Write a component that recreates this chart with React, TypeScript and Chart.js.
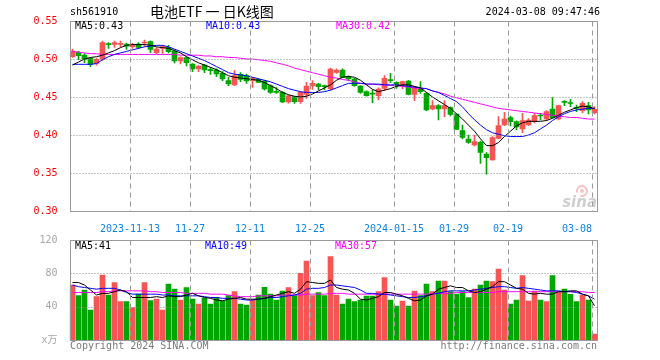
import React, { useEffect, useRef } from 'react';
import { Chart, registerables } from 'chart.js';

Chart.register(...registerables);

// ---------- data ----------
const DATES = [
  '2023-10-30','2023-10-31','2023-11-01','2023-11-02','2023-11-03','2023-11-06','2023-11-07','2023-11-08','2023-11-09','2023-11-10',
  '2023-11-13','2023-11-14','2023-11-15','2023-11-16','2023-11-17','2023-11-20','2023-11-21','2023-11-22','2023-11-23','2023-11-24',
  '2023-11-27','2023-11-28','2023-11-29','2023-11-30','2023-12-01','2023-12-04','2023-12-05','2023-12-06','2023-12-07','2023-12-08',
  '2023-12-11','2023-12-12','2023-12-13','2023-12-14','2023-12-15','2023-12-18','2023-12-19','2023-12-20','2023-12-21','2023-12-22',
  '2023-12-25','2023-12-26','2023-12-27','2023-12-28','2023-12-29','2024-01-02','2024-01-03','2024-01-04','2024-01-05','2024-01-08',
  '2024-01-09','2024-01-10','2024-01-11','2024-01-12','2024-01-15','2024-01-16','2024-01-17','2024-01-18','2024-01-19','2024-01-22',
  '2024-01-23','2024-01-24','2024-01-25','2024-01-26','2024-01-29','2024-01-30','2024-01-31','2024-02-01','2024-02-02','2024-02-05',
  '2024-02-06','2024-02-07','2024-02-08','2024-02-19','2024-02-20','2024-02-21','2024-02-22','2024-02-23','2024-02-26','2024-02-27',
  '2024-02-28','2024-02-29','2024-03-01','2024-03-04','2024-03-05','2024-03-06','2024-03-07','2024-03-08',
];

const TICK_INDEX = [10, 20, 30, 40, 54, 64, 73, 87];
const TICK_TEXT = ['2023-11-13', '11-27', '12-11', '12-25', '2024-01-15', '01-29', '02-19', '03-08'];

const OPEN = [
  0.5031,0.5088,0.5053,0.5009,0.4943,0.4996,0.5197,0.5193,0.5193,0.5197,
  0.5162,0.5197,0.5210,0.5228,0.5083,0.5140,0.5153,0.5105,0.4974,0.5018,
  0.4934,0.4868,0.4921,0.4851,0.4855,0.4811,0.4715,0.4658,0.4798,0.4781,
  0.4715,0.4732,0.4710,0.4650,0.4565,0.4561,0.4434,0.4504,0.4439,0.4535,
  0.4645,0.4671,0.4638,0.4610,0.4825,0.4855,0.4768,0.4737,0.4645,0.4570,
  0.4540,0.4518,0.4614,0.4719,0.4693,0.4658,0.4711,0.4535,0.4601,0.4548,
  0.4342,0.4386,0.4342,0.4360,0.4276,0.4057,0.3947,0.3869,0.3904,0.3750,
  0.3671,0.3956,0.4132,0.4228,0.4175,0.4079,0.4132,0.4175,0.4254,0.4210,
  0.4342,0.4210,0.4432,0.4417,0.4353,0.4320,0.4386,0.4294,
];
const HIGH = [
  0.5132,0.5100,0.5070,0.5020,0.5010,0.5237,0.5215,0.5237,0.5237,0.5210,
  0.5206,0.5215,0.5250,0.5240,0.5150,0.5175,0.5180,0.5120,0.5030,0.5030,
  0.4940,0.4915,0.4930,0.4886,0.4870,0.4833,0.4759,0.4846,0.4820,0.4800,
  0.4760,0.4740,0.4720,0.4660,0.4623,0.4570,0.4525,0.4510,0.4570,0.4693,
  0.4715,0.4680,0.4658,0.4880,0.4870,0.4870,0.4780,0.4745,0.4650,0.4580,
  0.4592,0.4620,0.4781,0.4812,0.4700,0.4710,0.4720,0.4640,0.4702,0.4560,
  0.4452,0.4400,0.4452,0.4370,0.4280,0.4132,0.4000,0.4000,0.3920,0.3770,
  0.3980,0.4241,0.4298,0.4250,0.4185,0.4285,0.4215,0.4285,0.4285,0.4320,
  0.4491,0.4395,0.4452,0.4470,0.4395,0.4439,0.4430,0.4373,
];
const LOW = [
  0.5020,0.4990,0.4952,0.4900,0.4920,0.4980,0.5140,0.5154,0.5160,0.5127,
  0.5140,0.5140,0.5170,0.5083,0.5070,0.5075,0.5080,0.4950,0.4934,0.4908,
  0.4833,0.4833,0.4820,0.4798,0.4768,0.4715,0.4650,0.4650,0.4702,0.4680,
  0.4627,0.4690,0.4590,0.4548,0.4548,0.4425,0.4420,0.4417,0.4417,0.4482,
  0.4601,0.4592,0.4592,0.4590,0.4810,0.4750,0.4715,0.4640,0.4548,0.4510,
  0.4426,0.4461,0.4584,0.4689,0.4614,0.4605,0.4526,0.4452,0.4548,0.4320,
  0.4329,0.4197,0.4241,0.4250,0.4070,0.3947,0.3890,0.3855,0.3627,0.3483,
  0.3670,0.3947,0.4123,0.4118,0.4070,0.4031,0.4123,0.4160,0.4197,0.4190,
  0.4220,0.4197,0.4386,0.4373,0.4307,0.4294,0.4276,0.4276,
];
const CLOSE = [
  0.5105,0.5044,0.4996,0.4930,0.4996,0.5215,0.5190,0.5215,0.5201,0.5170,
  0.5184,0.5153,0.5215,0.5127,0.5132,0.5162,0.5096,0.4974,0.5018,0.4952,
  0.4868,0.4908,0.4855,0.4847,0.4803,0.4737,0.4671,0.4781,0.4732,0.4711,
  0.4746,0.4693,0.4605,0.4561,0.4561,0.4434,0.4517,0.4439,0.4561,0.4645,
  0.4680,0.4636,0.4636,0.4866,0.4855,0.4759,0.4737,0.4650,0.4561,0.4518,
  0.4538,0.4605,0.4746,0.4715,0.4645,0.4702,0.4535,0.4623,0.4570,0.4329,
  0.4386,0.4342,0.4386,0.4272,0.4075,0.3969,0.3904,0.3912,0.3772,0.3702,
  0.3965,0.4123,0.4211,0.4175,0.4105,0.4190,0.4197,0.4254,0.4250,0.4307,
  0.4228,0.4386,0.4430,0.4415,0.4351,0.4417,0.4329,0.4338,
];

const MA5 = [
  0.492,0.496,0.500,0.502,0.503,0.505,0.508,0.511,0.515,0.518,
  0.519,0.519,0.519,0.518,0.516,0.515,0.514,0.511,0.508,0.503,
  0.499,0.495,0.492,0.489,0.486,0.482,0.478,0.476,0.475,0.474,
  0.473,0.472,0.469,0.465,0.461,0.456,0.453,0.451,0.450,0.451,
  0.454,0.458,0.462,0.466,0.472,0.476,0.477,0.476,0.472,0.466,
  0.460,0.457,0.459,0.461,0.464,0.466,0.466,0.464,0.462,0.456,
  0.450,0.445,0.440,0.435,0.428,0.421,0.413,0.405,0.395,0.386,
  0.386,0.390,0.398,0.405,0.412,0.416,0.418,0.418,0.418,0.419,
  0.422,0.426,0.430,0.433,0.436,0.438,0.437,0.435,
];
const MA10 = [
  0.493,0.493,0.493,0.493,0.494,0.499,0.503,0.506,0.508,0.510,
  0.512,0.514,0.516,0.517,0.518,0.518,0.516,0.513,0.510,0.507,
  0.504,0.501,0.498,0.494,0.490,0.486,0.482,0.480,0.479,0.478,
  0.476,0.474,0.472,0.470,0.467,0.464,0.461,0.459,0.457,0.456,
  0.456,0.456,0.457,0.459,0.462,0.465,0.468,0.468,0.468,0.467,
  0.467,0.467,0.466,0.466,0.466,0.465,0.464,0.463,0.462,0.461,
  0.458,0.456,0.452,0.448,0.444,0.437,0.428,0.420,0.413,0.407,
  0.403,0.401,0.399,0.398,0.398,0.398,0.400,0.403,0.408,0.413,
  0.419,0.424,0.428,0.431,0.433,0.434,0.435,0.435,
];
const MA30 = [
  0.510,0.509,0.508,0.507,0.507,0.506,0.506,0.506,0.506,0.506,
  0.506,0.506,0.506,0.506,0.506,0.506,0.506,0.506,0.505,0.505,
  0.505,0.505,0.504,0.504,0.503,0.503,0.502,0.502,0.501,0.500,
  0.500,0.499,0.498,0.497,0.495,0.493,0.491,0.488,0.486,0.484,
  0.482,0.480,0.478,0.476,0.475,0.473,0.472,0.470,0.468,0.467,
  0.467,0.466,0.466,0.465,0.465,0.464,0.463,0.462,0.461,0.461,
  0.458,0.456,0.454,0.451,0.449,0.447,0.445,0.443,0.441,0.439,
  0.437,0.435,0.434,0.433,0.432,0.431,0.430,0.429,0.428,0.427,
  0.426,0.425,0.424,0.423,0.423,0.422,0.421,0.421,
];

const VOLUME = [
  66,53.2,60,36,52,78,54,68.8,46,46,
  38.8,55.2,68.8,47.2,49.2,36,67.2,61.2,48,62.8,
  49.2,43.2,50,43.2,51.2,46.8,53.2,58,43.2,42,
  48,54,63.2,55.2,48,58.8,62.8,53.2,80,94.8,
  53.2,56.8,53.2,100,54,43.2,49.2,46,48,52.8,
  52.8,58,74.8,48,40.8,46.8,40.8,58.8,53.2,67.2,
  58,70.8,70.8,58,55.2,58,50.8,61.2,66,70.8,
  70,85.2,60,43.2,48,77.2,46.8,58.8,48,46,
  77.2,58,61.2,54.8,46,54,48,7.2,
];
const VMA5 = [
  69,69,66,60,54,56,56,58,60,58,
  51,51,51,51,52,51,53,52,52,54,
  56,53,51,50,48,47,49,50,51,49,
  49,49,50,52,54,56,58,56,61,70,
  69,68,68,72,63,61,60,56,49,48,
  50,52,57,57,55,53,50,47,48,53,
  55,61,63,65,63,63,59,57,58,61,
  64,70,70,66,62,61,56,55,56,55,
  55,58,58,59,59,55,53,41,
];
const VMA10 = [
  66,64,63,62,61,62,62,62,60,57,
  55,55,55,55,55,54,54,53,53,53,
  53,53,52,51,51,50,50,50,49,48,
  48,49,50,51,51,52,53,54,56,61,
  62,62,63,66,66,65,64,63,60,56,
  56,55,55,54,53,52,51,51,52,53,
  55,56,58,59,59,59,59,60,61,62,
  63,64,64,63,62,63,62,61,60,59,
  59,59,58,58,57,55,53,49,
];
const VMA30 = [
  57,57,57,57,57,58,58,59,59,59,
  59,59,59,58,58,57,57,57,57,56,
  56,56,56,55,55,55,54,53,52,52,
  52,53,53,53,53,54,54,54,54,55,
  55,55,55,56,56,56,55,55,55,55,
  55,55,55,55,55,55,55,55,55,55,
  56,56,56,56,57,57,57,57,57,57,
  57,58,58,58,58,58,58,58,58,58,
  58,58,58,58,58,58,57,57,
];

const PRICE_TICKS = [0.30, 0.35, 0.40, 0.45, 0.50, 0.55];
const VOL_TICKS = [0, 40, 80, 120];

// ---------- style ----------
const RED = '#f95454';
const GREEN = '#00a600';
const FRAME = '#9a9a9a';
const DASH_GRID = '#999999';
const DOT_GRID = '#888888';
const MONO = "'DejaVu Sans Mono', 'Noto Sans CJK SC', monospace";
const W = 660;
const H1 = 232;
const H2 = 128;

const candleColors = CLOSE.map((c, i) => (c >= OPEN[i] ? RED : GREEN));

function gridX(chart: any, idx: number) {
  const a = chart.chartArea;
  let px = chart.scales.x.getPixelForValue(idx);
  if (!isFinite(px)) px = a.left + ((idx + 0.5) * (a.right - a.left)) / DATES.length;
  return Math.floor(px - 2.5) + 0.5;
}

function gridY(chart: any, v: number, ticks: number[]) {
  const a = chart.chartArea;
  let py = chart.scales.y.getPixelForValue(v);
  if (!isFinite(py)) {
    const lo = ticks[0];
    const hi = ticks[ticks.length - 1];
    py = a.bottom - ((v - lo) / (hi - lo)) * (a.bottom - a.top);
  }
  return Math.round(py) + 0.5;
}

function drawGridAndFrame(chart: any, ticks: number[]) {
  const { ctx, chartArea: a } = chart;
  const x0 = Math.ceil(a.left) + 0.5;
  const x1 = Math.floor(a.right) + 0.5;
  const y0 = Math.round(a.top) + 0.5;
  const y1 = Math.round(a.bottom) + 0.5;
  ctx.save();
  ctx.globalCompositeOperation = 'source-over';
  ctx.globalAlpha = 1;
  ctx.lineWidth = 1;
  ctx.strokeStyle = DOT_GRID;
  ctx.setLineDash([1, 2]);
  for (let k = 1; k < ticks.length - 1; k++) {
    const y = gridY(chart, ticks[k], ticks);
    ctx.beginPath();
    ctx.moveTo(x0, y);
    ctx.lineTo(x1, y);
    ctx.stroke();
  }
  ctx.strokeStyle = DASH_GRID;
  ctx.setLineDash([5, 4]);
  for (let k = 0; k < TICK_INDEX.length; k++) {
    const x = gridX(chart, TICK_INDEX[k]);
    ctx.beginPath();
    ctx.moveTo(x, y0);
    ctx.lineTo(x, y1);
    ctx.stroke();
  }
  ctx.setLineDash([]);
  ctx.strokeStyle = FRAME;
  ctx.strokeRect(x0, y0, x1 - x0, y1 - y0);
  ctx.restore();
}

function text(ctx: any, s: string, x: number, y: number, color: string, font: string, align: string = 'left') {
  ctx.fillStyle = color;
  ctx.font = font;
  ctx.textAlign = align;
  ctx.textBaseline = 'middle';
  ctx.fillText(s, x, y);
}

const priceDecor = {
  id: 'priceDecor',
  afterDraw(chart: any) {
    drawGridAndFrame(chart, PRICE_TICKS);
    const { ctx } = chart;
    ctx.save();
    const f10 = `10px ${MONO}`;
    text(ctx, 'sh561910', 70, 12, '#000', f10);
    text(ctx, '电池ETF 一 日K线图', 150, 12, '#000', "14px 'Noto Sans CJK SC'");
    text(ctx, '2024-03-08 09:47:46', 600, 12, '#000', f10, 'right');
    text(ctx, 'MA5:0.43', 75, 26.5, '#000', f10);
    text(ctx, 'MA10:0.43', 206, 26.5, '#0000ff', f10);
    text(ctx, 'MA30:0.42', 336, 26.5, '#ff00ff', f10);
    // sina watermark
    ctx.globalAlpha = 0.55;
    ctx.strokeStyle = '#ef8f8f';
    ctx.lineWidth = 2;
    ctx.beginPath();
    ctx.arc(582, 191, 5, Math.PI * 0.9, Math.PI * 2.6);
    ctx.stroke();
    ctx.fillStyle = '#ef8f8f';
    ctx.beginPath();
    ctx.arc(582, 191, 2, 0, Math.PI * 2);
    ctx.fill();
    text(ctx, 'sina', 597, 203, '#a8a8a8', "italic bold 15px 'DejaVu Sans'", 'right');
    ctx.restore();
  },
};

const volDecor = {
  id: 'volDecor',
  afterDraw(chart: any) {
    drawGridAndFrame(chart, VOL_TICKS);
    const { ctx } = chart;
    ctx.save();
    const f10 = `10px ${MONO}`;
    text(ctx, 'MA5:41', 75, 14, '#000', f10);
    text(ctx, 'MA10:49', 205, 14, '#0000ff', f10);
    text(ctx, 'MA30:57', 335, 14, '#ff00ff', f10);
    text(ctx, 'Copyright 2024 SINA.COM', 70, 114, '#7a7a7a', f10);
    text(ctx, 'http://finance.sina.com.cn', 597, 114, '#7a7a7a', f10, 'right');
    ctx.restore();
  },
};

function lineDs(data: number[], color: string) {
  return {
    type: 'line' as const,
    data,
    borderColor: color,
    backgroundColor: color,
    borderWidth: 1,
    pointRadius: 0,
    tension: 0,
    fill: false,
    order: 0,
  };
}

export default function App() {
  const priceRef = useRef<HTMLCanvasElement>(null);
  const volRef = useRef<HTMLCanvasElement>(null);

  useEffect(() => {
    const price = new Chart(priceRef.current as HTMLCanvasElement, {
      type: 'bar',
      data: {
        labels: DATES,
        datasets: [
          lineDs(MA5, '#000000'),
          lineDs(MA10, '#0000ff'),
          lineDs(MA30, '#ff00ff'),
          {
            type: 'bar',
            data: HIGH.map((h, i) => [LOW[i], h]),
            backgroundColor: candleColors,
            barThickness: 1,
            grouped: false,
            order: 2,
          } as any,
          {
            type: 'bar',
            data: OPEN.map((o, i) => [o, CLOSE[i]]),
            backgroundColor: candleColors,
            barThickness: 5,
            minBarLength: 1,
            grouped: false,
            order: 1,
          } as any,
        ],
      },
      options: {
        animation: false,
        responsive: false,
        events: [],
        layout: { padding: { top: 21, right: 62.5, left: 0, bottom: 0 } },
        plugins: { legend: { display: false }, tooltip: { enabled: false } },
        scales: {
          x: {
            type: 'category',
            offset: true,
            grid: { display: false },
            border: { display: false },
            ticks: {
              autoSkip: false,
              maxRotation: 0,
              minRotation: 0,
              align: 'inner',
              padding: 4,
              labelOffset: -2.5,
              color: '#0a84e6',
              font: { family: MONO, size: 10 },
              callback: (_v: any, i: number) => {
                const k = TICK_INDEX.indexOf(i);
                return k >= 0 ? TICK_TEXT[k] : '';
              },
            },
            afterFit: (s: any) => {
              s.height = 21;
              s.paddingLeft = 0;
              s.paddingRight = 0;
            },
          },
          y: {
            min: PRICE_TICKS[0],
            max: PRICE_TICKS[PRICE_TICKS.length - 1],
            afterBuildTicks: (s: any) => {
              s.ticks = PRICE_TICKS.map((v) => ({ value: v }));
            },
            grid: { display: false },
            border: { display: false },
            ticks: {
              padding: 4,
              color: '#ff0000',
              font: { family: MONO, size: 10 },
              callback: (v: any) => Number(v).toFixed(2),
            },
            afterFit: (s: any) => {
              s.width = 69.5;
              s.paddingTop = 0;
              s.paddingBottom = 0;
            },
          },
        },
      } as any,
      plugins: [priceDecor],
    });

    const vol = new Chart(volRef.current as HTMLCanvasElement, {
      type: 'bar',
      data: {
        labels: DATES,
        datasets: [
          lineDs(VMA5, '#000000'),
          lineDs(VMA10, '#0000ff'),
          lineDs(VMA30, '#ff00ff'),
          {
            type: 'bar',
            data: VOLUME,
            backgroundColor: candleColors,
            barThickness: 5,
            grouped: false,
            order: 1,
          } as any,
        ],
      },
      options: {
        animation: false,
        responsive: false,
        events: [],
        layout: { padding: { top: 8, right: 62.5, left: 0, bottom: 20 } },
        plugins: { legend: { display: false }, tooltip: { enabled: false } },
        scales: {
          x: {
            type: 'category',
            offset: true,
            grid: { display: false },
            border: { display: false },
            ticks: { display: false, autoSkip: false },
            afterFit: (s: any) => {
              s.height = 0;
              s.paddingLeft = 0;
              s.paddingRight = 0;
            },
          },
          y: {
            min: VOL_TICKS[0],
            max: VOL_TICKS[VOL_TICKS.length - 1],
            afterBuildTicks: (s: any) => {
              s.ticks = VOL_TICKS.map((v) => ({ value: v }));
            },
            grid: { display: false },
            border: { display: false },
            ticks: {
              padding: 4,
              color: '#a6a6a6',
              font: { family: MONO, size: 10 },
              callback: (v: any) => (Number(v) === 0 ? 'x万' : String(v)),
            },
            afterFit: (s: any) => {
              s.width = 69.5;
              s.paddingTop = 0;
              s.paddingBottom = 0;
            },
          },
        },
      } as any,
      plugins: [volDecor],
    });

    return () => {
      price.destroy();
      vol.destroy();
    };
  }, []);

  return (
    <div style={{ position: 'fixed', left: 0, top: 0, width: W, height: H1 + H2, background: '#fff' }}>
      <canvas
        ref={priceRef}
        width={W}
        height={H1}
        style={{ position: 'absolute', left: 0, top: 0, width: W, height: H1, display: 'block' }}
      />
      <canvas
        ref={volRef}
        width={W}
        height={H2}
        style={{ position: 'absolute', left: 0, top: H1, width: W, height: H2, display: 'block' }}
      />
    </div>
  );
}
